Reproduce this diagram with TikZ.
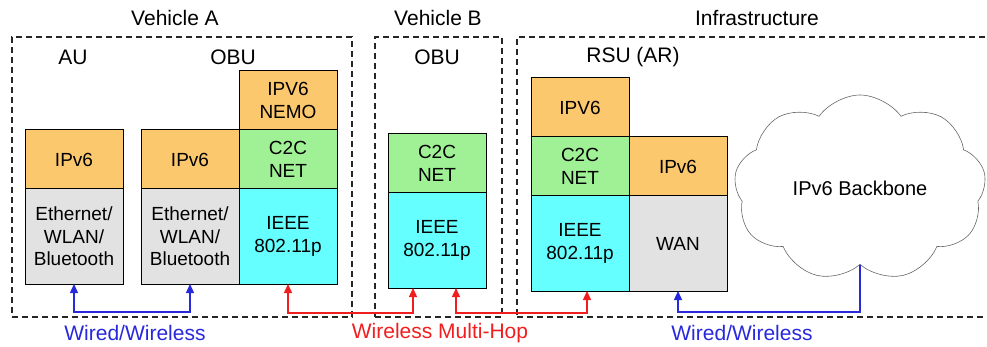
\documentclass[tikz,border=0pt]{standalone}
\usepackage{fontspec}
\setmainfont{Liberation Sans}
\usetikzlibrary{arrows.meta,positioning,shapes.symbols}
\definecolor{iporange}{RGB}{252,200,110}
\definecolor{netgreen}{RGB}{160,240,150}
\definecolor{maccyan}{RGB}{102,255,255}
\definecolor{linkgray}{RGB}{226,226,226}
\definecolor{wiredblue}{RGB}{40,40,220}
\definecolor{hopred}{RGB}{240,30,30}
\tikzset{%
  >={Triangle[width=8pt,length=9pt]},
  % Specifications for style of nodes:
            layer/.style = {rectangle, draw=black, line width=1pt,
                            minimum width=98pt, inner sep=0pt, outer sep=0pt,
                            align=center, font=\fontsize{19}{22.5}\selectfont},
		iplayer/.style = {layer, minimum height=59pt, fill=iporange},
		netlayer/.style = {layer, minimum height=59pt, fill=netgreen},
		maclayer/.style = {layer, minimum height=95pt, fill=maccyan},
		linklayer/.style = {layer, minimum height=95pt, fill=linkgray},
		groupbox/.style = {rectangle, draw=black!85, line width=1.4pt,
                            dash pattern=on 6pt off 4pt, inner sep=0pt},
		wired/.style = {draw=wiredblue, line width=1.3pt},
		hop/.style = {draw=hopred, line width=1.3pt},
}

\begin{document}
\begin{tikzpicture}[x=1pt, y=-1pt,
    every node/.style={font=\fontsize{21}{24}\selectfont}]
  \useasboundingbox (0,0) rectangle (987,347);
  % Dashed frames with their titles
  \node (vehA)	[groupbox, minimum width=340, minimum height=280] at (182,177) {};
  \node (vehB)	[groupbox, minimum width=127, minimum height=280] at (438.5,177) {};
  \node (infra)	[groupbox, minimum width=474, minimum height=280] at (754,177) {};
  \node (vehAtitle)	at (175,18)		{Vehicle A};
  \node (vehBtitle)	at (438,18)		{Vehicle B};
  \node (infratitle)	at (757,18)		{Infrastructure};
  \node (aulabel)	at (73,57)		{AU};
  \node (obuAlabel)	at (233,57)		{OBU};
  \node (obuBlabel)	at (437,57)		{OBU};
  \node (rsulabel)	at (633,57)		{RSU (AR)};

  % Vehicle A: AU and OBU stacks
  \node (auip)		[iplayer] at (74,159.5)				{IPv6};
  \node (aueth)		[linklayer, below=0pt of auip]		{Ethernet/\\WLAN/\\Bluetooth};
  \node (obuip)		[iplayer] at (190,159.5)			{IPv6};
  \node (obueth)	[linklayer, below=0pt of obuip]		{Ethernet/\\WLAN/\\Bluetooth};
  \node (obuc2c)	[netlayer, right=0pt of obuip]		{C2C\\NET};
  \node (obunemo)	[iplayer, above=0pt of obuc2c]		{IPV6\\NEMO};
  \node (obuieee)	[maclayer, below=0pt of obuc2c]		{IEEE\\802.11p};

  % Vehicle B: OBU stack
  \node (bc2c)		[netlayer] at (437,163.5)			{C2C\\NET};
  \node (bieee)		[maclayer, below=0pt of bc2c]		{IEEE\\802.11p};

  % Infrastructure: RSU stacks and backbone
  \node (rsuip)		[iplayer] at (580,107.5)			{IPV6};
  \node (rsuc2c)	[netlayer, below=0pt of rsuip]		{C2C\\NET};
  \node (rsuieee)	[maclayer, below=0pt of rsuc2c]		{IEEE\\802.11p};
  \node (rsuipv6)	[iplayer, right=0pt of rsuc2c]		{IPv6};
  \node (wan)		[linklayer, below=0pt of rsuipv6]	{WAN};
  \node (backbone)	[cloud, draw=black!60, line width=0.6pt, cloud puffs=9,
                     cloud puff arc=110, aspect=1.4, minimum width=252,
                     minimum height=186, font=\fontsize{20}{24}\selectfont]
                     at (860,188)	{IPv6 Backbone};

  % Links between the stacks
	\draw[wired, <->]	(aueth.south) -- 		(aueth.south |- 0,312) -| (obueth.south);
	\draw[hop, <->]	(obuieee.south) -- 	(obuieee.south |- 0,313) -| ([xshift=-24pt]bieee.south);
	\draw[hop, <->]	([xshift=19pt]bieee.south) -- ([xshift=19pt]bieee.south |- 0,313) -| ([xshift=7pt]rsuieee.south);
	\draw[wired, ->]	(backbone.south) -- 	(backbone.south |- 0,312) -| (wan.south);

  % Link captions
  \node (wiredA)	[text=wiredblue] at (135,333)	{Wired/Wireless};
  \node (multihop)	[text=hopred] at (440,333)		{Wireless Multi-Hop};
  \node (wiredI)	[text=wiredblue] at (742,333)	{Wired/Wireless};
\end{tikzpicture}
\end{document}
